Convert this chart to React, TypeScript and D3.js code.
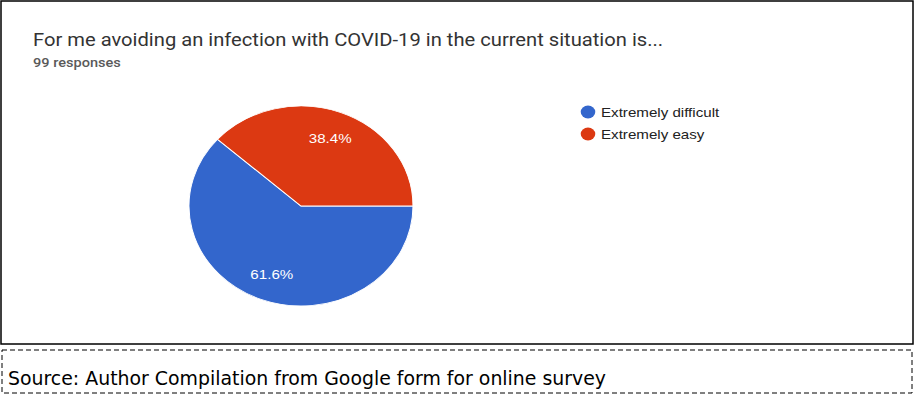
import * as d3 from "d3";
import { useEffect, useRef } from "react";

const categories = ["Extremely difficult", "Extremely easy"];
const responses = [61, 38];
const colors = ["#3366cc", "#dc3912"];
const title = "For me avoiding an infection with COVID-19 in the current situation is...";
const subtitle = "99 responses";
const source = "Source: Author Compilation from Google form for online survey";

export default function App() {
  const svgRef = useRef<SVGSVGElement | null>(null);

  useEffect(() => {
    if (!svgRef.current) return;
    const width = 915;
    const height = 398;
    const sx = 1.12; // the screenshot is stretched horizontally
    const svg = d3.select(svgRef.current);
    svg.selectAll("*").remove();
    svg.attr("width", width).attr("height", height).attr("viewBox", `0 0 ${width} ${height}`);

    svg.append("rect").attr("width", width).attr("height", height).attr("fill", "#fff");

    // stretch a text element horizontally by sx
    const stretch = (sel: d3.Selection<SVGTextElement, any, any, any>) => {
      sel.each(function () {
        const len = this.getComputedTextLength();
        d3.select(this).attr("textLength", len * sx).attr("lengthAdjust", "spacingAndGlyphs");
      });
    };

    // frames
    svg
      .append("rect")
      .attr("x", 1)
      .attr("y", 1)
      .attr("width", 912)
      .attr("height", 343)
      .attr("fill", "none")
      .attr("stroke", "#000")
      .attr("stroke-width", 1.5);
    svg
      .append("rect")
      .attr("x", 2)
      .attr("y", 350)
      .attr("width", 910)
      .attr("height", 43)
      .attr("fill", "none")
      .attr("stroke", "#000")
      .attr("stroke-width", 1)
      .attr("stroke-dasharray", "5,3");

    svg
      .append("text")
      .attr("x", 33)
      .attr("y", 46)
      .attr("font-family", "Roboto")
      .attr("font-size", 18)
      .attr("fill", "#333")
      .text(title)
      .call(stretch);
    svg
      .append("text")
      .attr("x", 33)
      .attr("y", 67)
      .attr("font-family", "Roboto")
      .attr("font-size", 13)
      .attr("font-weight", 500)
      .attr("fill", "#5a5a5a")
      .text(subtitle)
      .call(stretch);

    const cx = 301;
    const cy = 206;
    const r = 100;

    const pie = d3
      .pie<number>()
      .sort(null)
      .startAngle(Math.PI / 2)
      .endAngle(Math.PI / 2 + 2 * Math.PI);
    const arcs = pie(responses);
    const arc = d3.arc<d3.PieArcDatum<number>>().innerRadius(0).outerRadius(r);
    const labelArc = d3.arc<d3.PieArcDatum<number>>().innerRadius(r * 0.73).outerRadius(r * 0.73);
    const total = d3.sum(responses);

    svg
      .append("g")
      .attr("transform", `translate(${cx},${cy}) scale(${sx},1)`)
      .selectAll("path")
      .data(arcs)
      .enter()
      .append("path")
      .attr("d", arc)
      .attr("fill", (_, i) => colors[i])
      .attr("stroke", "#fff")
      .attr("stroke-width", 0.9);

    svg
      .append("g")
      .selectAll("text")
      .data(arcs)
      .enter()
      .append("text")
      .attr("x", (d) => cx + labelArc.centroid(d)[0] * sx)
      .attr("y", (d) => cy + labelArc.centroid(d)[1] + 5)
      .attr("text-anchor", "middle")
      .attr("font-family", "Arial, 'Liberation Sans'")
      .attr("font-size", 13.5)
      .attr("fill", "#fff")
      .text((d) => `${((d.data / total) * 100).toFixed(1)}%`)
      .call(stretch);

    const legend = svg
      .append("g")
      .selectAll("g")
      .data(categories)
      .enter()
      .append("g")
      .attr("transform", (_, i) => `translate(588,${112 + i * 22})`);
    legend
      .append("ellipse")
      .attr("rx", 6.5 * sx)
      .attr("ry", 6.5)
      .attr("fill", (_, i) => colors[i]);
    legend
      .append("text")
      .attr("x", 13)
      .attr("y", 4.5)
      .attr("font-family", "Arial, 'Liberation Sans'")
      .attr("font-size", 13.5)
      .attr("fill", "#222")
      .text((d) => d)
      .call(stretch);

    svg
      .append("text")
      .attr("x", 8)
      .attr("y", 385)
      .attr("font-family", "'DejaVu Sans'")
      .attr("font-size", 20)
      .attr("textLength", 598)
      .attr("lengthAdjust", "spacingAndGlyphs")
      .attr("fill", "#000")
      .text(source);
  }, []);

  return (
    <div style={{ position: "absolute", left: 0, top: 0 }}>
      <svg ref={svgRef} style={{ display: "block" }} />
    </div>
  );
}
